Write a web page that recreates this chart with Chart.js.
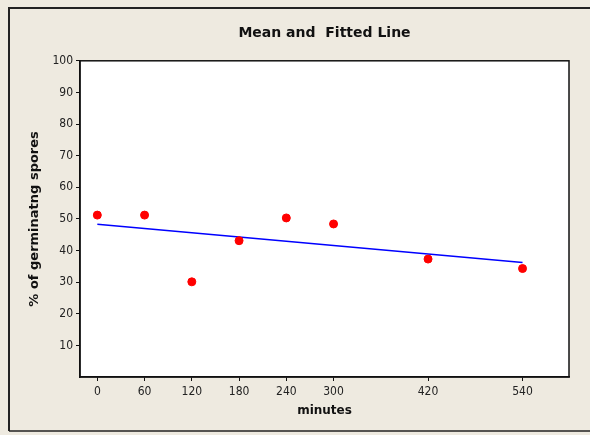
<!DOCTYPE html>
<html>
<head>
<meta charset="utf-8">
<script src="https://cdn.jsdelivr.net/npm/chart.js@4/dist/chart.umd.min.js"></script>
<style>
    html, body { margin: 0; padding: 0; background: #eeeae0; }
    #wrap { width: 590px; height: 435px; }
</style>
</head>
<body>
<div id="wrap"><canvas id="chart" width="590" height="435"></canvas></div>
<script>
// 时间点（分钟）与平均萌发率
const minutes = [0, 60, 120, 180, 240, 300, 420, 540];
const meanValues = [51.2, 51.2, 30.1, 43.1, 50.3, 48.4, 37.3, 34.3];
// 拟合直线两端点
const fitMinutes = [0, 540];
const fitValues = [48.3, 36.2];
const xTicks = [0, 60, 120, 180, 240, 300, 420, 540];
const yTicks = [10, 20, 30, 40, 50, 60, 70, 80, 90, 100];

const TICK_FONT = "'DejaVu Sans Condensed', 'Noto Sans', sans-serif";
const TITLE_FONT = "'DejaVu Sans', sans-serif";

// 背景和边框
const framePlugin = {
    id: 'frame',
    beforeDraw(chart) {
        const { ctx, chartArea: a } = chart;
        ctx.save();
        ctx.fillStyle = '#eeeae0';
        ctx.fillRect(0, 0, chart.width, chart.height);
        ctx.strokeStyle = '#222';
        ctx.lineWidth = 2;
        ctx.beginPath();
        ctx.moveTo(9, 431);
        ctx.lineTo(9, 8);
        ctx.lineTo(592, 8);
        ctx.stroke();
        ctx.lineWidth = 1.5;
        ctx.beginPath();
        ctx.moveTo(9, 431);
        ctx.lineTo(592, 431);
        ctx.stroke();
        ctx.fillStyle = '#ffffff';
        ctx.fillRect(a.left, a.top, a.right - a.left, a.bottom - a.top);
        ctx.restore();
    },
    afterDatasetsDraw(chart) {
        const { ctx, chartArea: a } = chart;
        ctx.save();
        ctx.strokeStyle = '#111';
        ctx.lineWidth = 1.5;
        ctx.strokeRect(a.left, a.top, a.right - a.left, a.bottom - a.top);
        ctx.restore();
    }
};

new Chart(document.getElementById('chart'), {
    type: 'scatter',
    data: {
        datasets: [
            {
                label: 'Mean',
                data: minutes.map((m, i) => ({ x: m, y: meanValues[i] })),
                backgroundColor: '#ff0000',
                borderColor: '#ff0000',
                pointRadius: 4,
                showLine: false
            },
            {
                label: 'Fitted',
                data: fitMinutes.map((m, i) => ({ x: m, y: fitValues[i] })),
                showLine: true,
                borderColor: '#0000ff',
                borderWidth: 1.5,
                pointRadius: 0
            }
        ]
    },
    options: {
        responsive: false,
        animation: false,
        layout: { padding: { left: 0, right: 21, top: 0, bottom: 0 } },
        plugins: {
            legend: { display: false },
            tooltip: { enabled: false },
            title: {
                display: true,
                text: 'Mean and  Fitted Line',
                fullSize: false,
                color: '#111',
                font: { family: TITLE_FONT, size: 14, weight: 'bold' },
                padding: { top: 25, bottom: 19 }
            }
        },
        scales: {
            x: {
                type: 'linear',
                min: -22,
                max: 599,
                afterFit: s => { s.height = 58; },
                afterBuildTicks: s => { s.ticks = xTicks.map(v => ({ value: v })); },
                grid: { drawOnChartArea: false, tickLength: 4, color: '#111' },
                border: { display: true, color: '#111', width: 1.5 },
                ticks: { color: '#222', padding: 4, maxRotation: 0, font: { family: TICK_FONT, size: 12 } },
                title: {
                    display: true,
                    text: 'minutes',
                    color: '#111',
                    font: { family: TITLE_FONT, size: 12, weight: 'bold' },
                    padding: { top: 0, bottom: 17 }
                }
            },
            y: {
                min: 0,
                max: 100,
                afterFit: s => { s.width = 80; },
                afterBuildTicks: s => { s.ticks = yTicks.map(v => ({ value: v })); },
                grid: { drawOnChartArea: false, tickLength: 4, color: '#111' },
                border: { display: true, color: '#111', width: 1.5 },
                ticks: { color: '#222', padding: 3, font: { family: TICK_FONT, size: 12 } },
                title: {
                    display: true,
                    text: '% of germinatng spores',
                    color: '#111',
                    font: { family: TITLE_FONT, size: 13, weight: 'bold' },
                    padding: { top: 27, bottom: 0 }
                }
            }
        }
    },
    plugins: [framePlugin]
});
</script>
</body>
</html>
